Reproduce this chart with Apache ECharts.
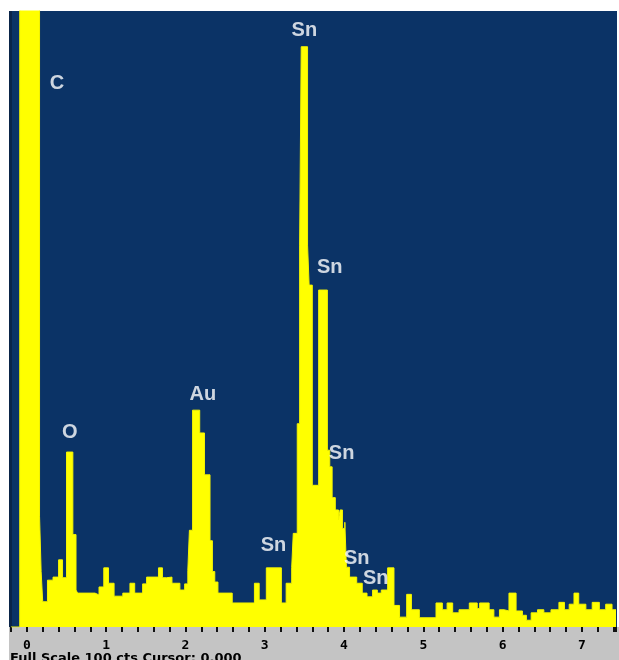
<!DOCTYPE html>
<html>
<head>
<meta charset="utf-8">
<script src="https://cdn.jsdelivr.net/npm/echarts@6/dist/echarts.min.js"></script>
<style>
html,body{margin:0;padding:0;background:#ffffff;}
#chart{width:619px;height:660px;}
</style>
</head>
<body>
<div id="chart"></div>
<script>
// Energy (keV) at the start of each step of the spectrum
const energyKeV = [-0.2,-0.09,0.16,0.18,0.20,0.26,0.33,0.40,0.45,0.50,0.58,0.62,0.64,0.86,0.91,0.97,1.03,1.10,1.21,1.30,1.36,1.46,1.51,1.66,1.71,1.76,1.83,1.93,1.99,2.03,2.05,2.09,2.18,2.24,2.31,2.34,2.37,2.41,2.59,2.87,2.93,3.02,3.21,3.27,3.34,3.36,3.41,3.44,3.46,3.54,3.56,3.60,3.68,3.79,3.82,3.85,3.89,3.93,3.95,3.98,4.01,4.03,4.07,4.16,4.23,4.29,4.36,4.42,4.47,4.55,4.63,4.70,4.79,4.85,4.95,5.16,5.24,5.30,5.37,5.45,5.58,5.68,5.71,5.83,5.89,5.96,6.02,6.08,6.17,6.25,6.30,6.36,6.44,6.52,6.61,6.71,6.78,6.84,6.90,6.96,7.05,7.13,7.22,7.30,7.38,7.43];
// Counts (percent of full scale, 100 cts)
const counts = [0,120,18,9,4.1,7.6,8.1,10.9,8,28.4,15,6,5.5,5.2,6.5,9.6,7.1,5,5.5,7.1,5.5,7,8.1,9.6,8,8.1,7.1,6,7,9.2,15.7,35.2,31.5,24.7,14,9,7.3,5.5,3.9,7.1,4.4,9.6,3.9,7.1,9.7,15.2,33,62,94.2,62,55.5,23,54.7,28.7,26,21,19,17.4,19,16,17,9.7,8.1,7.1,5.5,4.9,6,5.5,6,9.6,3.5,1.6,5.3,2.8,1.5,3.9,2.8,3.9,2.3,2.8,3.9,3,3.9,2.8,1.6,2.8,2.6,5.5,2.6,1.9,1.1,2.3,2.8,2.3,2.8,4,2.8,3.7,5.5,3.7,2.8,4,2.8,3.7,2.8,2.8];
// Peak annotations
const peakNames = ['C','O','Au','Sn','Sn','Sn','Sn','Sn','Sn'];
const peakEnergy = [0.38,0.54,2.22,3.50,3.82,3.97,3.11,4.16,4.40];
const peakCounts = [88.3,31.5,37.8,96.9,58.3,28.2,13.3,11.2,7.8];
const tickLabels = ['0','1','2','3','4','5','6','7'];
const footerText = 'Full Scale 100 cts Cursor: 0.000';

const spectrum = energyKeV.map((e,i)=>[e,counts[i]]);
const peaks = peakEnergy.map((e,i)=>({value:[e,peakCounts[i]], name:peakNames[i]}));

const chart = echarts.init(document.getElementById('chart'), null, {renderer:'canvas'});
chart.setOption({
  animation:false,
  backgroundColor:'#ffffff',
  grid:{left:11, top:11, width:606, height:616, show:false},
  graphic:[
    {type:'rect', z:-10, shape:{x:9,y:11,width:608,height:617}, style:{fill:'#0b3366'}},
    {type:'rect', z:-10, shape:{x:9,y:11,width:3,height:617}, style:{fill:'#0a2448'}},
    {type:'rect', z:-10, shape:{x:9,y:627,width:610,height:33}, style:{fill:'#c4c4c4'}},
    {type:'text', z:10, left:10, top:652, style:{text:footerText, fill:'#000', font:'bold 13px "DejaVu Sans", Arial, sans-serif'}}
  ],
  xAxis:{
    type:'value', min:-0.2, max:7.43, interval:0.2,
    axisLine:{show:false},
    splitLine:{show:false},
    axisTick:{show:true, length:5, lineStyle:{color:'#111', width:2}},
    axisLabel:{
      margin:12,
      color:'#000', fontWeight:'bold', fontSize:13, fontFamily:'"DejaVu Sans Mono", monospace',
      formatter:function(v){
        const r = Math.round(v);
        if (Math.abs(v-r) < 1e-6 && r>=0 && r<tickLabels.length) return tickLabels[r];
        return '';
      }
    }
  },
  yAxis:{type:'value', min:0, max:100, show:false},
  series:[
    {
      type:'line', data:spectrum, step:'end', symbol:'none', clip:true,
      lineStyle:{width:1, color:'#f4f400'},
      areaStyle:{color:'#ffff00', opacity:1},
      silent:true, z:2
    },
    {
      type:'scatter', data:peaks, symbolSize:0, z:5, silent:true,
      label:{
        show:true, position:'inside',
        formatter:function(p){return p.name;},
        color:'#ffffff', fontWeight:'bold', fontSize:20,
        fontFamily:'"Liberation Sans", Arial, sans-serif'
      }
    }
  ]
});
</script>
</body>
</html>
